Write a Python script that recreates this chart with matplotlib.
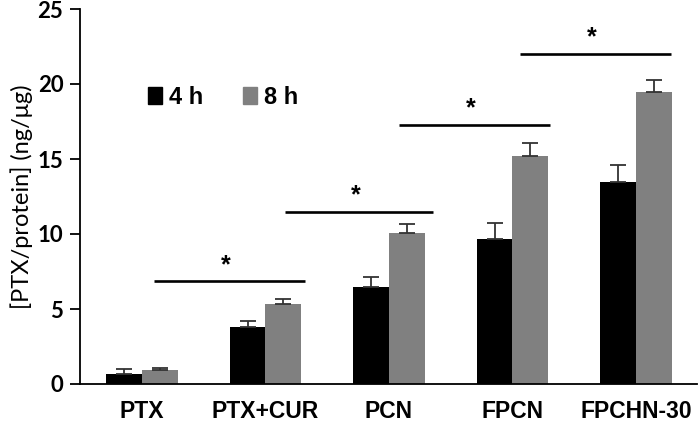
import matplotlib
matplotlib.use("Agg")
import matplotlib.pyplot as plt
import numpy as np
from matplotlib.patches import Patch

categories = ["PTX", "PTX+CUR", "PCN", "FPCN", "FPCHN-30"]
series_names = ["4 h", "8 h"]
values_4h = [0.65, 3.8, 6.5, 9.65, 13.5]
values_8h = [0.92, 5.35, 10.05, 15.2, 19.5]
err_4h = [0.33, 0.37, 0.65, 1.05, 1.12]
err_8h = [0.13, 0.31, 0.62, 0.85, 0.75]
# significance brackets: (start group pos, end group pos, height)
sig_start = [0.1, 1.16, 2.08, 3.06]
sig_end = [1.32, 2.36, 3.30, 4.28]
sig_height = [6.84, 11.5, 17.3, 22.0]
sig_label = ["*", "*", "*", "*"]
yticks = [0, 5, 10, 15, 20, 25]

fig = plt.figure(figsize=(6.99, 4.25), dpi=100)
ax = fig.add_axes([80/699, 41/425, (697-80)/699, (384-9)/425])

x = np.arange(len(categories))
w = 0.288
black = "#000000"
grey = "#808080"
ekw = dict(ecolor="#333333", elinewidth=1.3, capsize=5.5, capthick=1.3)
ax.bar(x - w/2, values_4h, w, color=black,
       yerr=[np.zeros(len(err_4h)), err_4h], error_kw=ekw, zorder=2)
ax.bar(x + w/2, values_8h, w, color=grey,
       yerr=[np.zeros(len(err_8h)), err_8h], error_kw=ekw, zorder=2)

for s, e, h, lab in zip(sig_start, sig_end, sig_height, sig_label):
    ax.plot([s, e], [h, h], color="black", lw=1.9, solid_capstyle="butt")
    ax.text((s + e) / 2 - 0.03, h + 1.1, lab, ha="center", va="center",
            fontsize=18, fontweight="bold", family="Liberation Sans")

ax.set_xlim(-0.502, 4.494)
ax.set_ylim(0, 25)
ax.set_yticks(yticks)
ax.set_yticklabels([str(t) for t in yticks], fontsize=16, fontweight="bold",
                   family="Lato")
ax.set_xticks(x)
ax.set_xticklabels(categories, fontsize=16.5, fontweight="bold",
                   family="Liberation Sans")
ax.tick_params(axis="x", length=0, pad=11.5)
ax.tick_params(axis="y", length=7, width=1.3, direction="out", pad=5)
for sp in ["top", "right"]:
    ax.spines[sp].set_visible(False)
for sp in ["left", "bottom"]:
    ax.spines[sp].set_linewidth(1.3)

ax.set_ylabel("[PTX/protein] (ng/μg)", fontsize=17, family="Lato", labelpad=3)

handles = [Patch(color=black, label=series_names[0]),
           Patch(color=grey, label=series_names[1])]
leg = ax.legend(handles=handles, ncol=2, frameon=False,
                loc="center left", bbox_to_anchor=(0.075, 0.765),
                handlelength=0.6, handleheight=0.75, handletextpad=0.3,
                columnspacing=1.7,
                prop=dict(family="Liberation Sans", weight="bold", size=17))

fig.savefig("out.png", dpi=100)
